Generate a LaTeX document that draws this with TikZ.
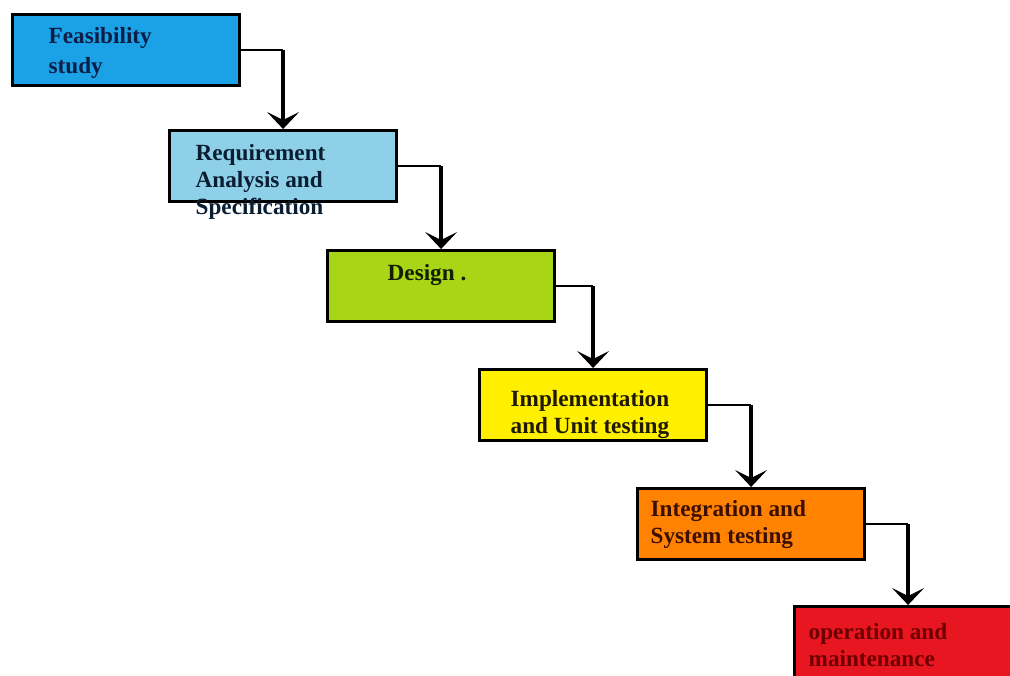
\documentclass[tikz,border=0pt]{standalone}
\usepackage{fontspec}
\setmainfont{Liberation Serif}
\usetikzlibrary{arrows.meta}
\definecolor{feasblue}{RGB}{27,161,230}
\definecolor{reqblue}{RGB}{142,208,232}
\definecolor{desgreen}{RGB}{168,214,22}
\definecolor{implyellow}{RGB}{255,240,0}
\definecolor{integorange}{RGB}{255,130,0}
\definecolor{operred}{RGB}{232,22,32}
\begin{document}
\begin{tikzpicture}[>={Stealth[length=1.7mm,width=3.2mm,inset=0.8mm]},
  phase/.style={draw,line width=0.9pt,minimum width=2.27cm,minimum height=0.71cm,anchor=north west,inner sep=0},
  txt/.style={anchor=north west,inner sep=0,align=left,font=\fontsize{6.6}{7.6}\selectfont\bfseries},
  hline/.style={line width=0.45pt},
  vline/.style={line width=1.2pt,->}]
\path[use as bounding box,clip](0,0)rectangle(10.1,-6.75);
\fill[white](0,0)rectangle(10.1,-6.75);
% phases
\node[phase,fill=feasblue](feas)at(0.11,-0.13){};
\node[phase,fill=reqblue](req)at(1.68,-1.29){};
\node[phase,fill=desgreen](des)at(3.26,-2.49){};
\node[phase,fill=implyellow](impl)at(4.78,-3.68){};
\node[phase,fill=integorange](integ)at(6.36,-4.87){};
\node[phase,fill=operred](oper)at(7.93,-6.05){};
% texts
\node[txt,text={rgb,255:red,10;green,30;blue,70}](feas-t)at([shift={(0.37,-0.14)}]feas.north west){Feasibility\\[0.03cm]study};
\node[txt,text={rgb,255:red,10;green,30;blue,50}](req-t)at([shift={(0.27,-0.15)}]req.north west){Requirement\\Analysis and\\Specification};
\node[txt,text={rgb,255:red,20;green,30;blue,0}](des-t)at([shift={(0.61,-0.15)}]des.north west){Design .};
\node[txt,align=center,text={rgb,255:red,30;green,25;blue,0}](impl-t)at([shift={(0.32,-0.22)}]impl.north west){Implementation\\and Unit testing};
\node[txt,text={rgb,255:red,60;green,15;blue,0}](integ-t)at([shift={(0.14,-0.13)}]integ.north west){Integration and\\System testing};
\node[txt,text={rgb,255:red,110;green,0;blue,0}](oper-t)at([shift={(0.15,-0.18)}]oper.north west){operation and\\maintenance};
% connectors
\draw[hline](feas.east)--(feas.east-|req.north);
\draw[vline](feas.east-|req.north)--(req.north);
\draw[hline](req.east)--(req.east-|des.north);
\draw[vline](req.east-|des.north)--(des.north);
\draw[hline](des.east)--(des.east-|impl.north);
\draw[vline](des.east-|impl.north)--(impl.north);
\draw[hline](impl.east)--(impl.east-|integ.north);
\draw[vline](impl.east-|integ.north)--(integ.north);
\draw[hline](integ.east)--(integ.east-|oper.north);
\draw[vline](integ.east-|oper.north)--(oper.north);
\end{tikzpicture}
\end{document}
